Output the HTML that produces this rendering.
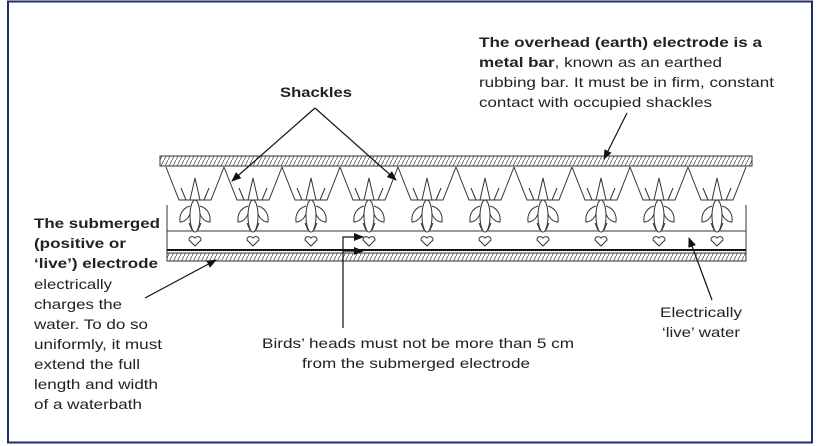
<!DOCTYPE html>
<html><head><meta charset="utf-8"><style>
html,body{margin:0;padding:0;background:#fff;width:820px;height:446px;overflow:hidden}
svg{display:block}
text{font-family:"Liberation Sans",sans-serif;fill:#222}
</style></head><body>
<svg width="820" height="446" viewBox="0 0 820 446" xmlns="http://www.w3.org/2000/svg">
<defs>
<pattern id="h" width="4" height="8" patternUnits="userSpaceOnUse"><line x1="0" y1="8" x2="4" y2="0" stroke="#555" stroke-width="0.8"/></pattern>
<marker id="a" markerWidth="10" markerHeight="8" refX="9" refY="4" orient="auto" markerUnits="userSpaceOnUse"><path d="M0,0 L10,4 L0,8 z" fill="#111"/></marker>
<g id="s" fill="none" stroke="#333" stroke-width="1">
<path d="M-29,167 L-16,200 L16,200 L29,167"/>
<path d="M-5,200 L0,178 L5,200"/>
<path d="M-9,200 L-14,188 M9,200 L14,188"/>
<ellipse cx="0" cy="216" rx="5" ry="16" fill="#fff"/>
<path d="M-5,206 C-12,208 -16,214 -15,222 C-11,222 -7,219 -5,214"/>
<path d="M5,206 C12,208 16,214 15,222 C11,222 7,219 5,214"/>
<path d="M-3,230 L-6,223 M3,230 L6,223"/>
<path d="M-6,240 C-6,236 -2,236 0,238 C2,236 6,236 6,240 L0,246 Z" fill="#fff"/>
</g>
</defs>
<rect x="8" y="1.5" width="804" height="441" fill="#fff" stroke="#1f2d6b" stroke-width="2"/>
<!-- top bar -->
<rect x="160" y="156" width="592" height="10" fill="url(#h)" stroke="#333" stroke-width="1"/>
<!-- tank -->
<path d="M167,205 L167,258 M746,205 L746,258" stroke="#333" stroke-width="1"/>
<line x1="167" y1="231" x2="746" y2="231" stroke="#333" stroke-width="1"/>
<line x1="167" y1="250" x2="746" y2="250" stroke="#111" stroke-width="2"/>
<rect x="167" y="253" width="579" height="8" fill="url(#h)" stroke="#333" stroke-width="1"/>
<use href="#s" x="195"/><use href="#s" x="253"/><use href="#s" x="311"/><use href="#s" x="369"/><use href="#s" x="427"/>
<use href="#s" x="485"/><use href="#s" x="543"/><use href="#s" x="601"/><use href="#s" x="659"/><use href="#s" x="717"/>
<!-- arrows -->
<g stroke="#111" stroke-width="1.2" fill="none">
<line x1="315" y1="108" x2="232" y2="181" marker-end="url(#a)"/>
<line x1="315" y1="108" x2="396" y2="180" marker-end="url(#a)"/>
<line x1="627" y1="113" x2="604" y2="159" marker-end="url(#a)"/>
<line x1="145" y1="298" x2="216" y2="260" marker-end="url(#a)"/>
<path d="M343,328 L343,237 L363,237" marker-end="url(#a)"/>
<line x1="343" y1="251" x2="363" y2="251" marker-end="url(#a)"/>
<line x1="712" y1="300" x2="689" y2="238" marker-end="url(#a)"/>
</g>
<!-- text -->
<g font-size="14">
<text x="479" y="47" font-weight="bold" textLength="283" lengthAdjust="spacingAndGlyphs">The overhead (earth) electrode is a</text>
<text x="479" y="67" textLength="243" lengthAdjust="spacingAndGlyphs"><tspan font-weight="bold">metal bar</tspan>, known as an earthed</text>
<text x="479" y="87" textLength="295" lengthAdjust="spacingAndGlyphs">rubbing bar. It must be in firm, constant</text>
<text x="479" y="107" textLength="233" lengthAdjust="spacingAndGlyphs">contact with occupied shackles</text>
<text x="280" y="97" font-weight="bold" textLength="72" lengthAdjust="spacingAndGlyphs">Shackles</text>
<text x="34" y="228" font-weight="bold" textLength="126" lengthAdjust="spacingAndGlyphs">The submerged</text>
<text x="34" y="248" font-weight="bold" textLength="92" lengthAdjust="spacingAndGlyphs">(positive or</text>
<text x="34" y="268" font-weight="bold" textLength="124" lengthAdjust="spacingAndGlyphs">‘live’) electrode</text>
<text x="34" y="289" textLength="78" lengthAdjust="spacingAndGlyphs">electrically</text>
<text x="34" y="309" textLength="88" lengthAdjust="spacingAndGlyphs">charges the</text>
<text x="34" y="329" textLength="114" lengthAdjust="spacingAndGlyphs">water. To do so</text>
<text x="34" y="349" textLength="128" lengthAdjust="spacingAndGlyphs">uniformly, it must</text>
<text x="34" y="369" textLength="106" lengthAdjust="spacingAndGlyphs">extend the full</text>
<text x="34" y="389" textLength="124" lengthAdjust="spacingAndGlyphs">length and width</text>
<text x="34" y="409" textLength="108" lengthAdjust="spacingAndGlyphs">of a waterbath</text>
<text x="262" y="348" textLength="312" lengthAdjust="spacingAndGlyphs">Birds’ heads must not be more than 5 cm</text>
<text x="302" y="368" textLength="228" lengthAdjust="spacingAndGlyphs">from the submerged electrode</text>
<text x="660" y="317" textLength="82" lengthAdjust="spacingAndGlyphs">Electrically</text>
<text x="662" y="337" textLength="78" lengthAdjust="spacingAndGlyphs">‘live’ water</text>
</g>
</svg>
</body></html>
